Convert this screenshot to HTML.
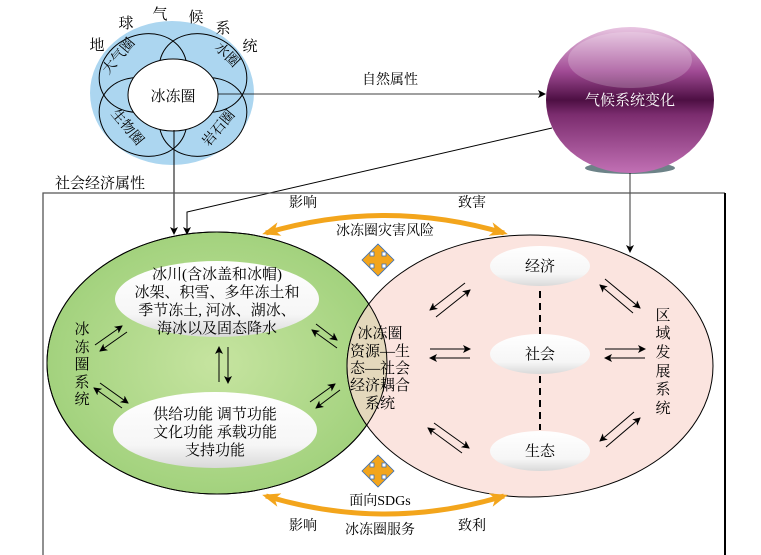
<!DOCTYPE html>
<html><head><meta charset="utf-8"><style>
html,body{margin:0;padding:0;background:#fff;}
svg{display:block;font-family:"Liberation Serif","Noto Serif CJK SC","Noto Sans CJK SC",serif;}
</style></head><body>
<svg width="761" height="555" viewBox="0 0 761 555" xmlns="http://www.w3.org/2000/svg">
<defs>
<marker id="ah" markerWidth="8" markerHeight="8" refX="7" refY="4" orient="auto" markerUnits="userSpaceOnUse"><path d="M0,0 L8,4 L0,8 L2,4 z" fill="#000"/></marker>
<marker id="oa" markerWidth="18" markerHeight="14" refX="14" refY="7" orient="auto" markerUnits="userSpaceOnUse"><path d="M0,0 L18,7 L0,14 L5,7 z" fill="#f3a51c"/></marker>
<marker id="oas" markerWidth="18" markerHeight="14" refX="4" refY="7" orient="auto" markerUnits="userSpaceOnUse"><path d="M18,0 L0,7 L18,14 L13,7 z" fill="#f3a51c"/></marker>
<linearGradient id="sph2" x1="0" y1="0" x2="0" y2="1">
<stop offset="0" stop-color="#e9c6e2"/><stop offset="0.3" stop-color="#a24c96"/><stop offset="0.5" stop-color="#4d0f43"/><stop offset="0.6" stop-color="#7b2c6e"/><stop offset="1" stop-color="#c170b4"/></linearGradient>
<radialGradient id="gr" cx="50%" cy="50%" r="55%"><stop offset="0" stop-color="#c6e4a0"/><stop offset="1" stop-color="#9fd07a"/></radialGradient>
<linearGradient id="wo" x1="0" y1="0" x2="0" y2="1"><stop offset="0" stop-color="#ffffff"/><stop offset="0.7" stop-color="#f6f6f6"/><stop offset="1" stop-color="#d9d9d9"/></linearGradient>
<clipPath id="gclip"><ellipse cx="217" cy="363" rx="170" ry="131"/></clipPath>
</defs>

<!-- top cluster -->
<ellipse cx="172" cy="93" rx="82" ry="72" fill="#acd6f0"/>
<g fill="none" stroke="#000" stroke-width="1">
<ellipse cx="143" cy="73" rx="45" ry="38" transform="rotate(-25 143 73)"/>
<ellipse cx="203" cy="73" rx="45" ry="38" transform="rotate(25 203 73)"/>
<ellipse cx="143" cy="117" rx="45" ry="38" transform="rotate(25 143 117)"/>
<ellipse cx="203" cy="117" rx="45" ry="38" transform="rotate(-25 203 117)"/>
</g>
<ellipse cx="173" cy="95" rx="45" ry="36" fill="#fff" stroke="#000"/>
<text x="173" y="101" font-size="15" text-anchor="middle">冰冻圈</text>
<g font-size="14" text-anchor="middle">
<text x="122" y="59" transform="rotate(-50 122 59)">大气圈</text>
<text x="224" y="58" transform="rotate(45 224 58)">水圈</text>
<text x="124" y="130" transform="rotate(50 124 130)">生物圈</text>
<text x="222" y="131" transform="rotate(-50 222 131)">岩石圈</text>
</g>
<g font-size="15" text-anchor="middle">
<text x="97" y="50">地</text><text x="126" y="28">球</text><text x="160" y="19">气</text>
<text x="196" y="22">候</text><text x="223" y="33">系</text><text x="250" y="51">统</text>
</g>

<!-- sphere -->
<ellipse cx="630" cy="168" rx="45" ry="6" fill="#2f4f55" opacity="0.7"/>
<ellipse cx="630" cy="100" rx="84" ry="73" fill="url(#sph2)"/>
<ellipse cx="630" cy="60" rx="62" ry="28" fill="#fff" opacity="0.2"/>
<text x="630" y="105" font-size="15" fill="#fff" text-anchor="middle">气候系统变化</text>

<!-- connectors top -->
<line x1="218" y1="94" x2="545" y2="94" stroke="#000" stroke-width="0.8" marker-end="url(#ah)"/>
<text x="390" y="84" font-size="14" text-anchor="middle">自然属性</text>
<line x1="174" y1="130" x2="174" y2="234" stroke="#000" marker-end="url(#ah)"/>
<polyline points="552,128 187,212 187,234" fill="none" stroke="#000" marker-end="url(#ah)"/>
<line x1="630" y1="173" x2="630" y2="252" stroke="#000" stroke-width="0.8" marker-end="url(#ah)"/>
<text x="55" y="188" font-size="15">社会经济属性</text>

<!-- frame -->
<polyline points="43,555 43,193 725,193" fill="none" stroke="#555" stroke-width="1.3"/>
<line x1="725" y1="193" x2="725" y2="555" stroke="#000" stroke-width="2"/>

<!-- main ellipses -->
<ellipse cx="217" cy="363" rx="170" ry="131" fill="url(#gr)" stroke="#000"/>
<ellipse cx="530" cy="366" rx="183" ry="131" fill="#fbe4df" stroke="#000"/>
<ellipse cx="530" cy="366" rx="183" ry="131" fill="#e4d8bc" clip-path="url(#gclip)"/>
<g clip-path="url(#gclip)"><ellipse cx="530" cy="366" rx="183" ry="131" fill="none" stroke="#000"/></g>
<ellipse cx="217" cy="363" rx="170" ry="131" fill="none" stroke="#000"/>

<!-- white ovals -->
<ellipse cx="217" cy="299" rx="102" ry="38" fill="url(#wo)"/>
<ellipse cx="215" cy="430" rx="102" ry="38" fill="url(#wo)"/>
<ellipse cx="540" cy="266" rx="50" ry="20" fill="url(#wo)"/>
<ellipse cx="540" cy="354" rx="50" ry="20" fill="url(#wo)"/>
<ellipse cx="540" cy="451" rx="50" ry="20" fill="url(#wo)"/>

<g font-size="15" text-anchor="middle">
<text x="217" y="279">冰川(含冰盖和冰帽)</text>
<text x="217" y="297">冰架、积雪、多年冻土和</text>
<text x="217" y="315">季节冻土, 河冰、湖冰、</text>
<text x="217" y="333">海冰以及固态降水</text>
<text x="215" y="419">供给功能 调节功能</text>
<text x="215" y="437">文化功能 承载功能</text>
<text x="215" y="455">支持功能</text>
<text x="540" y="271">经济</text>
<text x="540" y="359">社会</text>
<text x="540" y="456">生态</text>
<text x="380" y="338">冰冻圈</text>
<text x="380" y="356">资源—生</text>
<text x="380" y="373">态—社会</text>
<text x="380" y="390">经济耦合</text>
<text x="380" y="408">系统</text>
</g>
<g font-size="15" text-anchor="middle">
<text x="82" y="334">冰</text><text x="82" y="352">冻</text><text x="82" y="369">圈</text><text x="82" y="387">系</text><text x="82" y="404">统</text>
<text x="663" y="320">区</text><text x="663" y="338">域</text><text x="663" y="357">发</text><text x="663" y="376">展</text><text x="663" y="394">系</text><text x="663" y="413">统</text>
</g>

<!-- dashed lines -->
<line x1="540" y1="291" x2="540" y2="334" stroke="#000" stroke-width="2" stroke-dasharray="7,5"/>
<line x1="540" y1="376" x2="540" y2="430" stroke="#000" stroke-width="2" stroke-dasharray="7,5"/>

<!-- small black arrow pairs -->
<g stroke="#000" stroke-width="1" marker-end="url(#ah)">
<line x1="95" y1="345" x2="122" y2="326"/><line x1="127" y1="332" x2="100" y2="351"/>
<line x1="100" y1="383" x2="128" y2="403"/><line x1="122" y1="408" x2="94" y2="388"/>
<line x1="219" y1="382" x2="219" y2="347"/><line x1="228" y1="347" x2="228" y2="383"/>
<line x1="316" y1="324" x2="337" y2="340"/><line x1="337" y1="348" x2="312" y2="330"/>
<line x1="310" y1="402" x2="335" y2="384"/><line x1="340" y1="390" x2="316" y2="408"/>
<line x1="465" y1="283" x2="430" y2="310"/><line x1="436" y1="317" x2="470" y2="290"/>
<line x1="430" y1="349" x2="470" y2="349"/><line x1="470" y1="358" x2="430" y2="358"/>
<line x1="434" y1="423" x2="469" y2="448"/><line x1="462" y1="453" x2="428" y2="428"/>
<line x1="605" y1="279" x2="640" y2="308"/><line x1="633" y1="313" x2="600" y2="285"/>
<line x1="605" y1="349" x2="645" y2="349"/><line x1="645" y1="358" x2="605" y2="358"/>
<line x1="634" y1="412" x2="600" y2="441"/><line x1="606" y1="447" x2="640" y2="418"/>
</g>

<!-- orange arcs -->
<path d="M266,233 Q385,198 504,233" fill="none" stroke="#f3a51c" stroke-width="5" marker-start="url(#oas)" marker-end="url(#oa)"/>
<path d="M266,496 Q385,532 504,496" fill="none" stroke="#f3a51c" stroke-width="5" marker-start="url(#oas)" marker-end="url(#oa)"/>
<g font-size="14" text-anchor="middle">
<text x="303" y="207">影响</text><text x="472" y="207">致害</text>
<text x="385" y="235">冰冻圈灾害风险</text>
<text x="380" y="505">面向SDGs</text>
<text x="380" y="534">冰冻圈服务</text>
<text x="303" y="530">影响</text><text x="472" y="530">致利</text>
</g>

<!-- orange cross icons -->
<g fill="#f3a51c" stroke="#3a6fb5" stroke-width="0.8">
<path d="M378,244 l8,8 h-4 v4 h4 v-4 l8,8 l-8,8 v-4 h-4 v4 h4 l-8,8 l-8,-8 h4 v-4 h-4 v4 l-8,-8 l8,-8 v4 h4 v-4 h-4 z"/>
<path d="M378,455 l8,8 h-4 v4 h4 v-4 l8,8 l-8,8 v-4 h-4 v4 h4 l-8,8 l-8,-8 h4 v-4 h-4 v4 l-8,-8 l8,-8 v4 h4 v-4 h-4 z"/>
</g>
</svg>
</body></html>
